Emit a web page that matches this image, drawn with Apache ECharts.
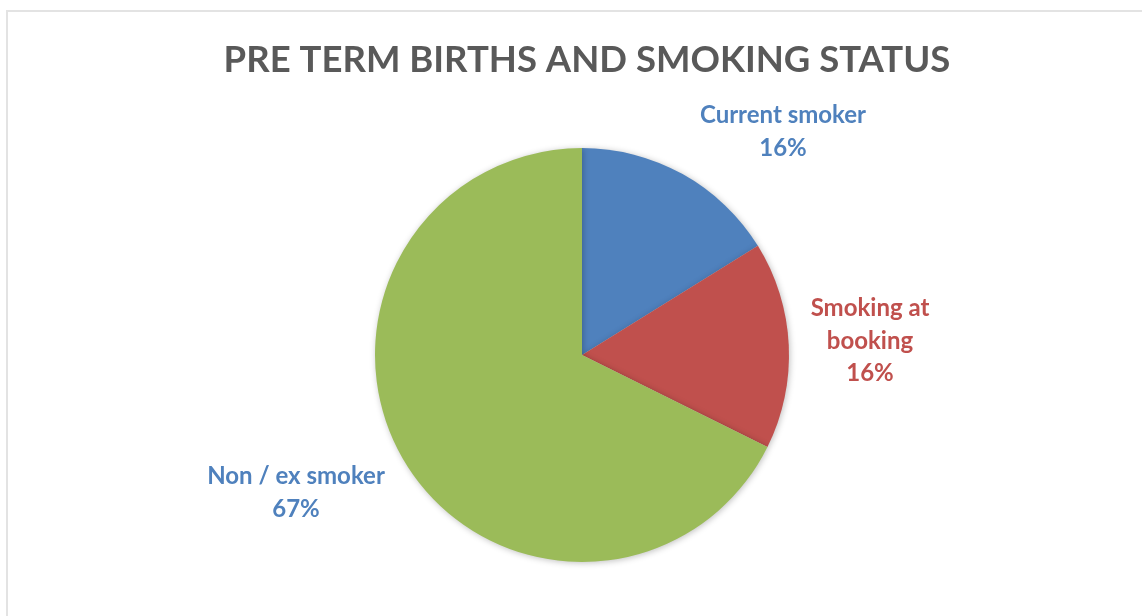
<!DOCTYPE html>
<html>
<head>
<meta charset="utf-8">
<title>Pre term births and smoking status</title>
<script src="https://cdn.jsdelivr.net/npm/echarts@6/dist/echarts.min.js"></script>
<style>
  html, body { margin: 0; padding: 0; background: #ffffff; }
  #frame {
    position: absolute; left: 6px; top: 10px; width: 1200px; height: 700px;
    border-left: 2px solid #e3e3e3; border-top: 2px solid #e3e3e3;
  }
  #chart { position: absolute; left: 0; top: 0; width: 1142px; height: 616px; }
</style>
</head>
<body>
<div id="frame"></div>
<div id="chart"></div>
<script>
// Smoking status of mothers with pre term births (percent of total)
const categories = ['Current smoker', 'Smoking at\nbooking', 'Non / ex smoker'];
const percentages = [16, 16, 67];
const sliceColors = ['#4F81BD', '#C0504D', '#9BBB59'];
const labelColors = ['#4F81BD', '#C0504D', '#4F81BD'];

// pie geometry and where each data label block is centred
const pieCenter = [582, 355];
const pieRadius = 207;
const labelAnchors = [[783, 132], [870, 341], [296, 493]];

const chart = echarts.init(document.getElementById('chart'), null, { renderer: 'canvas' });

const data = categories.map((name, i) => ({
  name: name,
  value: percentages[i],
  itemStyle: { color: sliceColors[i] },
  label: { color: labelColors[i] }
}));

chart.setOption({
  animation: false,
  backgroundColor: 'transparent',
  title: {
    text: 'PRE TERM BIRTHS AND SMOKING STATUS',
    left: 582,
    textAlign: 'center',
    top: 37,
    textStyle: {
      fontFamily: 'Lato',
      fontWeight: 'bold',
      fontSize: 36.5,
      color: '#595959'
    }
  },
  series: [{
    type: 'pie',
    center: pieCenter,
    radius: pieRadius,
    startAngle: 90,
    clockwise: true,
    data: data,
    itemStyle: {
      shadowBlur: 6,
      shadowColor: 'rgba(0,0,0,0.25)',
      shadowOffsetX: 1,
      shadowOffsetY: 1
    },
    label: {
      show: true,
      position: 'outside',
      formatter: p => p.name + '\n' + p.value + '%',
      fontFamily: 'Lato',
      fontWeight: 'bold',
      fontSize: 24,
      lineHeight: 32.5
    },
    labelLine: { show: false },
    labelLayout: function (params) {
      const a = labelAnchors[params.dataIndex];
      return { x: a[0], y: a[1], align: 'center', verticalAlign: 'middle' };
    },
    emphasis: { disabled: true }
  }]
});
</script>
</body>
</html>
